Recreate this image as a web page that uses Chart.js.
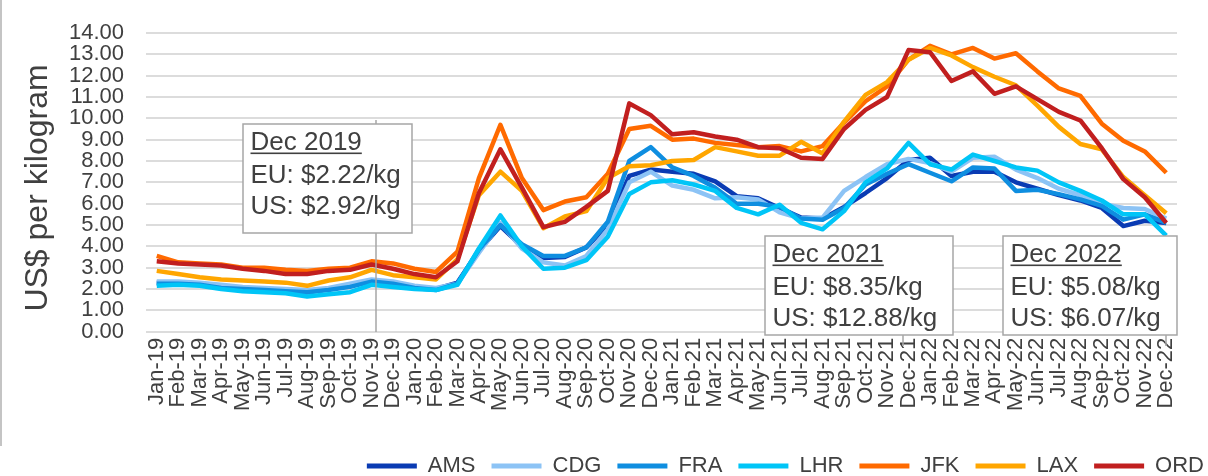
<!DOCTYPE html>
<html>
<head>
<meta charset="utf-8">
<script src="https://cdn.jsdelivr.net/npm/chart.js@4.4.1/dist/chart.umd.min.js"></script>
<style>
  html, body { margin: 0; padding: 0; background: #ffffff; overflow: hidden; }
  #wrap { position: relative; width: 1208px; height: 476px; }
  #edge { position: absolute; left: 0; top: 0; width: 2px; height: 446px; background: #c4c4c4; }
  canvas { display: block; }
</style>
</head>
<body>
<div id="wrap">
  <canvas id="c" width="1208" height="476"></canvas>
  <div id="edge"></div>
</div>
<script>
// ---- categories ----
const months = [
  'Jan-19','Feb-19','Mar-19','Apr-19','May-19','Jun-19','Jul-19','Aug-19','Sep-19','Oct-19','Nov-19','Dec-19',
  'Jan-20','Feb-20','Mar-20','Apr-20','May-20','Jun-20','Jul-20','Aug-20','Sep-20','Oct-20','Nov-20','Dec-20',
  'Jan-21','Feb-21','Mar-21','Apr-21','May-21','Jun-21','Jul-21','Aug-21','Sep-21','Oct-21','Nov-21','Dec-21',
  'Jan-22','Feb-22','Mar-22','Apr-22','May-22','Jun-22','Jul-22','Aug-22','Sep-22','Oct-22','Nov-22','Dec-22'
];

// ---- series values (US$ per kg) ----
const AMS = [2.3,2.3,2.25,2.1,2.05,2.0,1.95,1.85,2.0,2.15,2.4,2.25,
             2.1,2.0,2.3,3.8,4.95,4.0,3.45,3.5,3.95,5.0,7.3,7.6,
             7.5,7.4,7.05,6.35,6.25,5.8,5.35,5.3,5.85,6.5,7.2,8.05,
             8.15,7.3,7.5,7.5,7.0,6.7,6.4,6.15,5.8,4.95,5.2,5.1];
const CDG = [2.35,2.35,2.3,2.2,2.1,2.05,2.0,1.95,2.05,2.25,2.45,2.35,
             2.15,2.05,2.25,3.7,5.1,3.9,3.25,3.1,3.55,4.8,7.0,7.5,
             6.85,6.65,6.25,6.3,6.2,5.6,5.3,5.35,6.6,7.25,7.85,8.1,
             7.9,7.5,8.15,8.2,7.6,7.2,6.7,6.4,6.0,5.8,5.75,5.3];
const FRA = [2.25,2.25,2.2,2.05,2.0,1.95,1.9,1.85,1.95,2.1,2.35,2.25,
             2.05,1.95,2.25,3.85,5.0,4.1,3.55,3.55,3.95,5.15,8.0,8.65,
             7.7,7.3,6.75,6.0,6.0,5.85,5.3,5.25,5.8,6.9,7.4,7.85,
             7.45,7.05,7.7,7.65,6.6,6.65,6.45,6.2,5.9,5.25,5.5,5.1];
const LHR = [2.15,2.2,2.15,2.0,1.9,1.85,1.8,1.65,1.75,1.85,2.2,2.1,
             2.0,1.95,2.2,3.9,5.45,4.0,2.95,3.0,3.35,4.45,6.45,7.0,
             7.1,6.9,6.6,5.8,5.5,5.95,5.1,4.8,5.65,7.0,7.65,8.85,
             7.85,7.6,8.3,8.0,7.7,7.55,7.0,6.6,6.15,5.5,5.5,4.5];
const JFK = [3.55,3.25,3.2,3.15,3.0,3.0,2.9,2.85,2.95,3.0,3.3,3.2,
             2.95,2.8,3.75,7.2,9.7,7.2,5.7,6.1,6.3,7.4,9.5,9.65,
             9.0,9.05,8.85,8.75,8.65,8.7,8.45,8.7,9.8,10.8,11.5,12.75,
             13.4,13.0,13.3,12.8,13.05,12.2,11.4,11.05,9.75,8.95,8.45,7.45];
const LAX = [2.85,2.7,2.55,2.45,2.4,2.35,2.3,2.15,2.4,2.55,2.9,2.65,
             2.55,2.45,3.4,6.4,7.5,6.6,4.85,5.4,5.65,7.2,7.75,7.8,
             8.0,8.05,8.65,8.45,8.25,8.25,8.9,8.35,9.85,11.1,11.7,12.75,
             13.3,12.95,12.4,11.95,11.55,10.6,9.6,8.8,8.55,7.25,6.4,5.55];
const ORD = [3.3,3.2,3.15,3.1,2.95,2.85,2.7,2.7,2.85,2.9,3.15,2.95,
             2.7,2.55,3.3,6.5,8.55,6.75,4.9,5.15,5.85,6.6,10.7,10.15,
             9.25,9.35,9.15,9.0,8.65,8.6,8.15,8.1,9.5,10.4,11.0,13.2,
             13.1,11.75,12.2,11.15,11.5,10.9,10.3,9.9,8.6,7.15,6.3,5.1];

const seriesNames  = ['AMS','CDG','FRA','LHR','JFK','LAX','ORD'];
const seriesValues = [AMS, CDG, FRA, LHR, JFK, LAX, ORD];

// ---- tick labels / text ----
const yTitle = 'US$ per kilogram';
const noteTitles = ['Dec 2019', 'Dec 2021', 'Dec 2022'];
const noteEU = ['EU: $2.22/kg', 'EU: $8.35/kg', 'EU: $5.08/kg'];
const noteUS = ['US: $2.92/kg', 'US: $12.88/kg', 'US: $6.07/kg'];

// ---- styles / layout (kept apart from data) ----
const seriesColors = ['#0a3bb3','#8cc3f5','#0f8ee0','#00c5f7','#ff6a00','#ffa600','#c11f1f'];
const FONT = "'Liberation Sans', Arial, sans-serif";
const TXT = '#404040';
const noteBoxes = [
  {x: 243, y: 124, w: 169, h: 109, lx: 376, ly1: 120, ly2: 332},
  {x: 765, y: 236, w: 188, h: 99, lx: 903, ly1: 335, ly2: 346},
  {x: 1003, y: 236, w: 174, h: 99, lx: 1166, ly1: 335, ly2: 346}
];

const notesPlugin = {
  id: 'notes',
  afterDraw(chart) {
    const ctx = chart.ctx;
    ctx.save();
    // y axis title
    ctx.save();
    ctx.translate(47, 188);
    ctx.rotate(-Math.PI / 2);
    ctx.font = '32px ' + FONT;
    ctx.fillStyle = TXT;
    ctx.textAlign = 'center';
    ctx.textBaseline = 'alphabetic';
    ctx.fillText(yTitle, 0, 0);
    ctx.restore();
    // callouts
    noteBoxes.forEach((b, i) => {
      ctx.strokeStyle = '#a6a6a6';
      ctx.lineWidth = 1.5;
      ctx.beginPath();
      ctx.moveTo(b.lx, b.ly1);
      ctx.lineTo(b.lx, b.ly2);
      ctx.stroke();
      ctx.fillStyle = '#ffffff';
      ctx.fillRect(b.x, b.y, b.w, b.h);
      ctx.strokeRect(b.x, b.y, b.w, b.h);
      ctx.fillStyle = TXT;
      ctx.font = '26px ' + FONT;
      ctx.textAlign = 'left';
      ctx.textBaseline = 'alphabetic';
      const tx = b.x + 7.5;
      ctx.fillText(noteTitles[i], tx, b.y + 25.5);
      const tw = ctx.measureText(noteTitles[i]).width;
      ctx.fillRect(tx, b.y + 28.5, tw, 1.6);
      ctx.fillText(noteEU[i], tx, b.y + 59);
      ctx.fillText(noteUS[i], tx, b.y + 90);
    });
    ctx.restore();
  }
};

new Chart(document.getElementById('c'), {
  type: 'line',
  data: {
    labels: months,
    datasets: seriesNames.map((n, i) => ({
      label: n,
      data: seriesValues[i],
      borderColor: seriesColors[i],
      backgroundColor: seriesColors[i],
      borderWidth: 4.5,
      pointRadius: 0,
      tension: 0,
      fill: false,
      order: seriesNames.length - i,
      borderJoinStyle: 'round'
    }))
  },
  options: {
    responsive: false,
    animation: false,
    devicePixelRatio: 1,
    layout: { padding: { left: 0, right: -12, top: 17, bottom: -11 } },
    plugins: {
      legend: {
        position: 'bottom',
        align: 'end',
        labels: {
          font: { family: FONT, size: 22 },
          color: TXT,
          boxWidth: 50,
          boxHeight: 5,
          padding: 16,
          sort: (a, b) => a.datasetIndex - b.datasetIndex,
          generateLabels: (chart) => Chart.defaults.plugins.legend.labels.generateLabels(chart)
            .map(l => Object.assign(l, { lineWidth: 0 }))
        }
      },
      tooltip: { enabled: false },
      title: { display: false }
    },
    scales: {
      x: {
        type: 'category',
        offset: true,
        grid: { display: false, drawTicks: false },
        border: { display: false },
        ticks: {
          autoSkip: false, minRotation: 90, maxRotation: 90, padding: 6,
          font: { family: FONT, size: 22 }, color: TXT
        },
        afterFit(s) { s.height = 107.3; }
      },
      y: {
        type: 'linear',
        min: 0, max: 14,
        ticks: {
          stepSize: 1, padding: 22, autoSkip: false,
          callback: v => Number(v).toFixed(2),
          font: { family: FONT, size: 22, lineHeight: 1 }, color: TXT
        },
        grid: { color: '#dcdcdc', lineWidth: 2, drawTicks: false },
        border: { display: false },
        afterFit(s) { s.width = 146; }
      },
      yr: {
        type: 'linear',
        position: 'right',
        display: true,
        grid: { display: false, drawTicks: false },
        border: { display: false },
        ticks: { display: false },
        afterFit(s) { s.width = 43; }
      }
    }
  },
  plugins: [notesPlugin]
});
</script>
</body>
</html>
